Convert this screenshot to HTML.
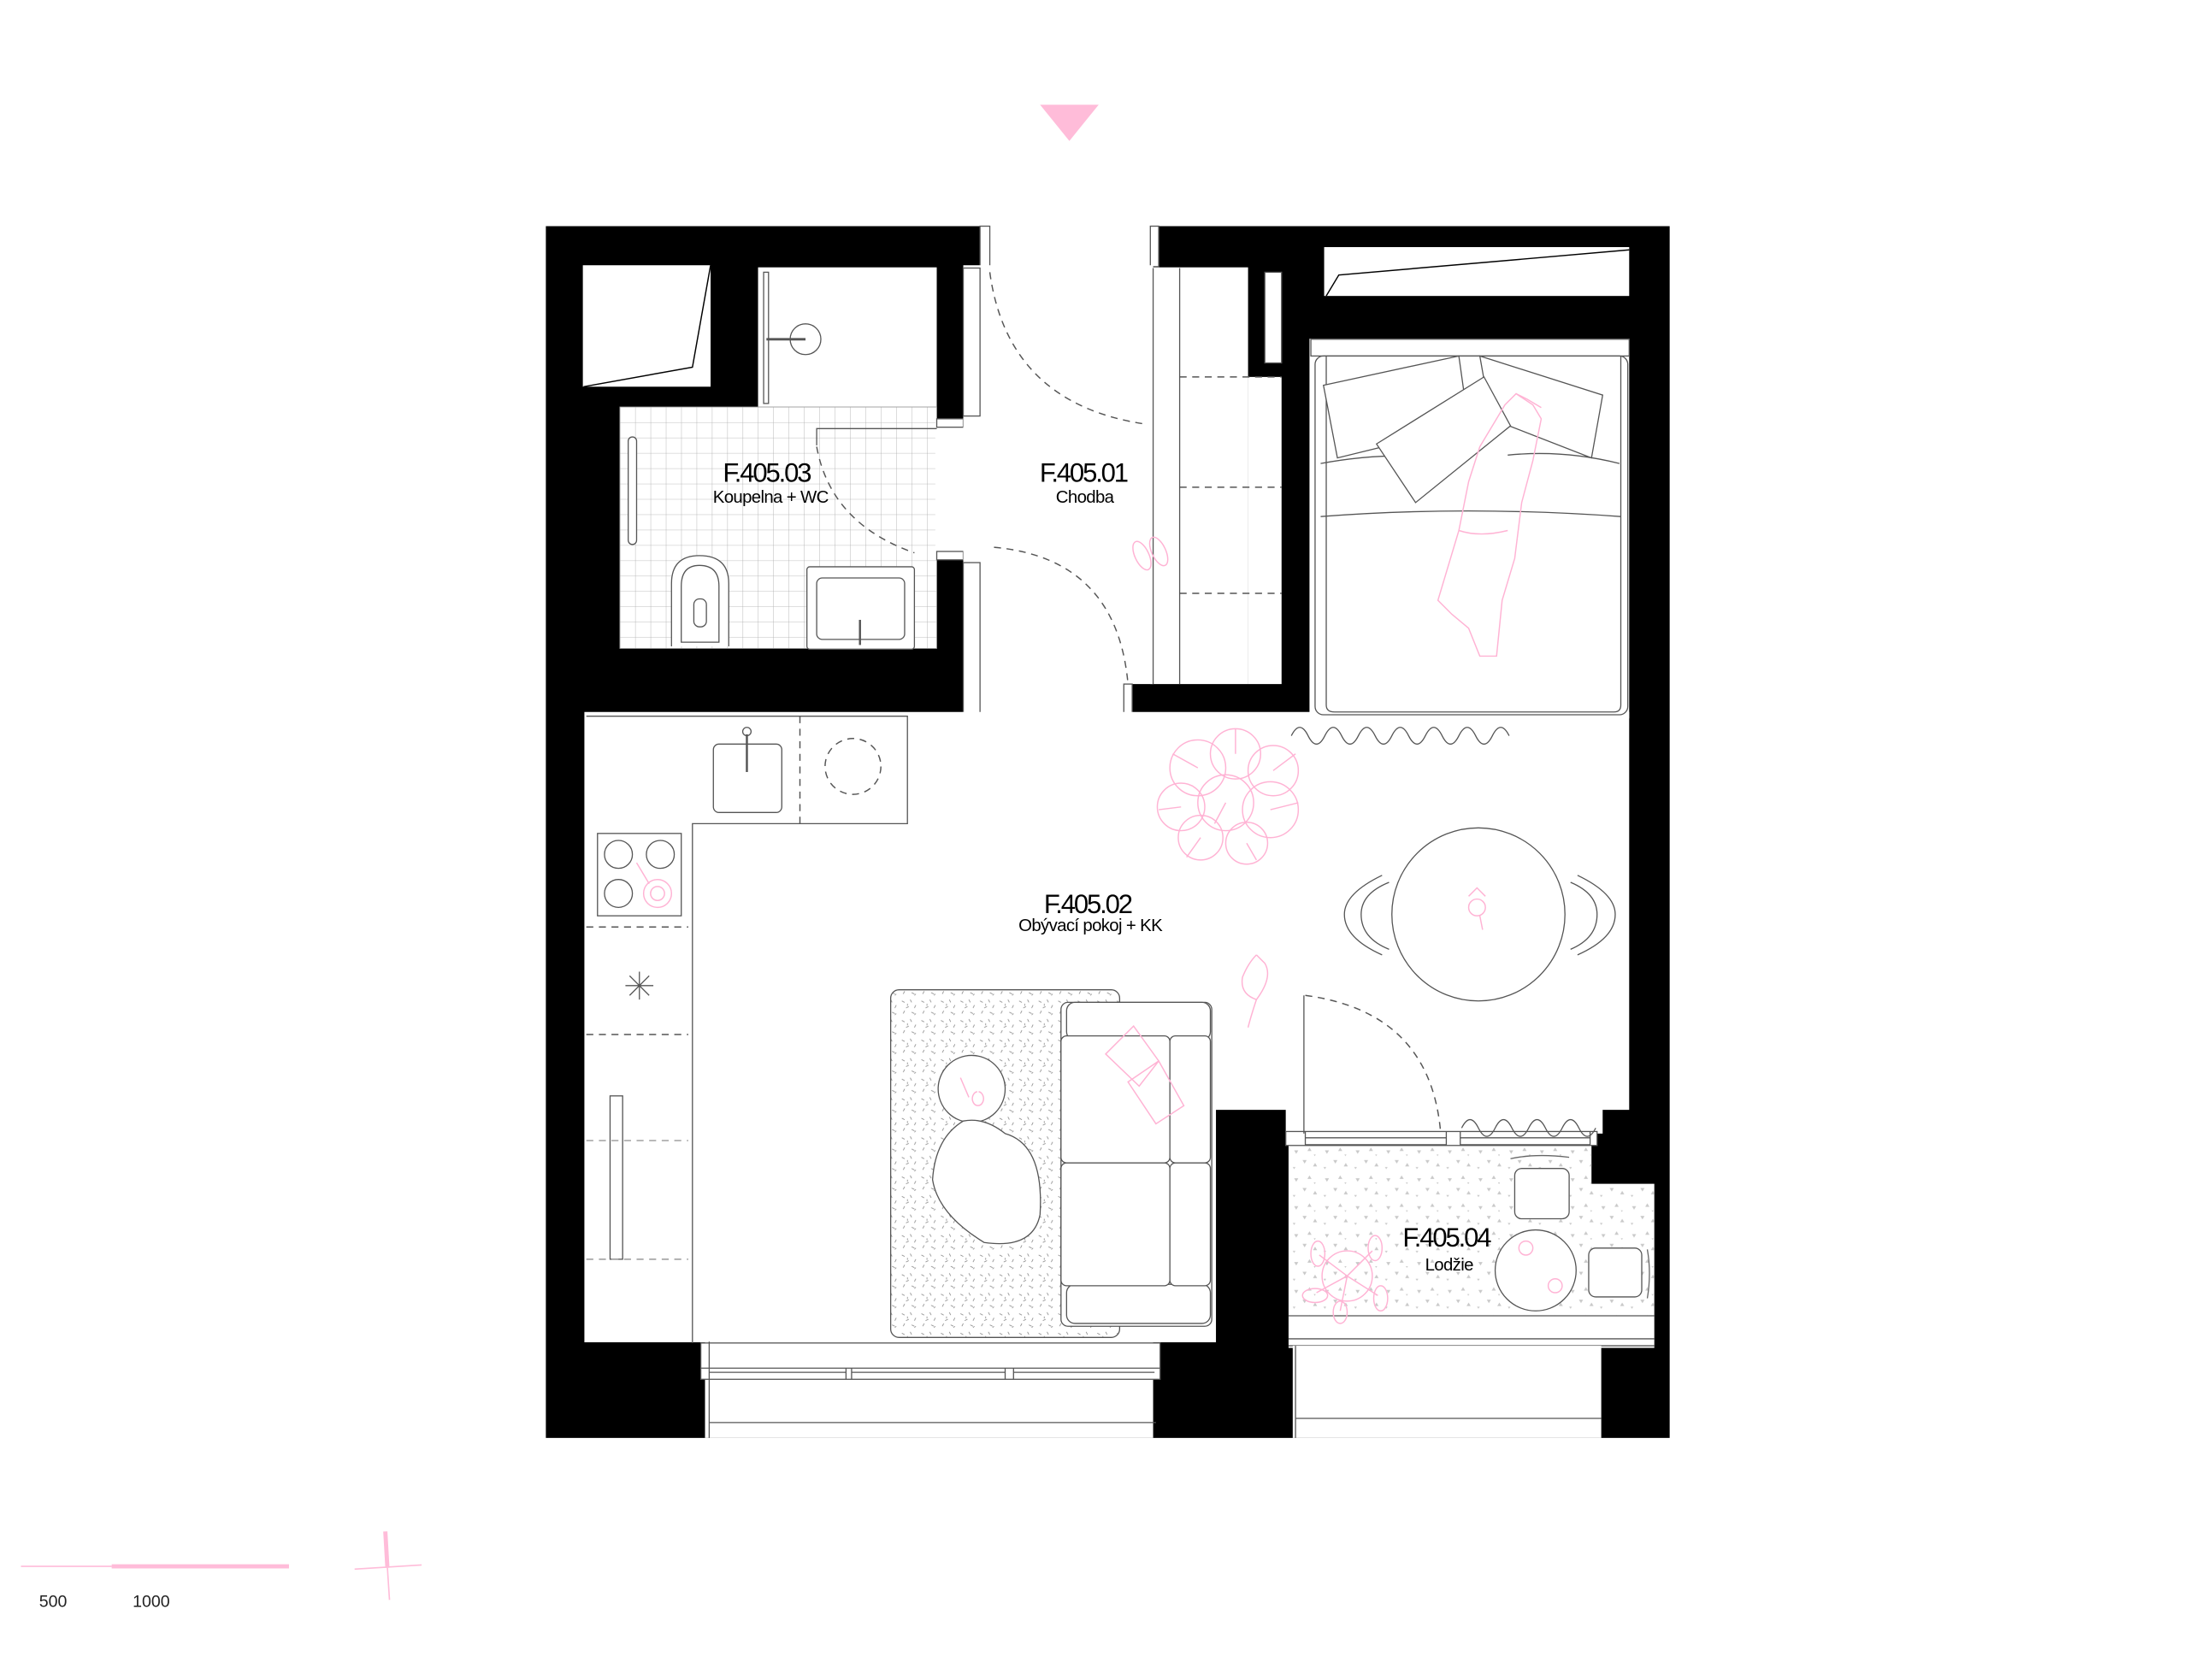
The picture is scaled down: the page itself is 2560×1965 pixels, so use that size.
<!DOCTYPE html>
<html><head><meta charset="utf-8"><style>
html,body{margin:0;padding:0;background:#fff;}
svg{display:block;}
.t{font-family:"Liberation Sans",sans-serif;font-size:19px;letter-spacing:-1.3px;fill:#000;text-anchor:middle;}
.s{font-family:"Liberation Sans",sans-serif;font-size:12.5px;letter-spacing:-0.4px;fill:#000;text-anchor:middle;}
.l{fill:none;stroke:#555;stroke-width:0.8;}
.lw{fill:#fff;stroke:#555;stroke-width:0.8;}
.d{fill:none;stroke:#555;stroke-width:0.9;stroke-dasharray:5 4;}
.p{fill:none;stroke:#ffb3d4;stroke-width:0.9;}
</style></head><body>
<svg width="2560" height="1965" viewBox="0 0 1568 1203.4" preserveAspectRatio="none" xmlns="http://www.w3.org/2000/svg">
<defs>
<pattern id="tile" width="11" height="11" patternUnits="userSpaceOnUse" x="444" y="291.5">
<path d="M0 0H11M0 0V11" stroke="#aaa" stroke-width="0.5" fill="none"/>
</pattern>
<pattern id="rug" width="14" height="14" patternUnits="userSpaceOnUse">
<path d="M2 3l2 1M8 2l1 2M12 6l-1 2M5 8l2-1M3 12l1-2M9 11l2 1M6 5l0 1.5M11 13l1-1" stroke="#888" stroke-width="0.5" fill="none"/>
</pattern>
<pattern id="tri" width="22" height="20" patternUnits="userSpaceOnUse">
<path d="M3 4l3 0l-1.5 2.5zM14 2l1.5 2.5l-3 0zM9 11l3 0l-1.5 2.5zM18 13l1.5 2.5l-3 0zM2 16l2 0l-1 1.5zM17 7l1.5 0l-.75 1.2z" fill="#c9c9c9"/>
</pattern>
</defs>

<polygon points="745,75 787,75 766,101" fill="#ffbcd9"/>

<rect x="391" y="162" width="805" height="868" fill="#000"/>

<rect x="702" y="155" width="124" height="40" fill="#fff"/>
<rect x="702" y="162" width="7" height="29" class="lw"/>
<rect x="824" y="162" width="6" height="29" class="lw"/>

<rect x="417.5" y="190" width="91.5" height="87" fill="#fff"/>
<path d="M509 190 L496 263 L418 277" fill="none" stroke="#000" stroke-width="0.9"/>
<rect x="543" y="191.5" width="128" height="101" fill="#fff"/>
<rect x="444" y="291.5" width="227" height="173" fill="#fff"/>
<rect x="444" y="291.5" width="227" height="173" fill="url(#tile)"/>
<rect x="444" y="291.5" width="227" height="173" fill="none" stroke="#999" stroke-width="0.5"/>
<rect x="670" y="300" width="21" height="101" fill="#fff"/>
<rect x="671" y="300" width="19" height="6" class="lw"/>
<rect x="671" y="395" width="19" height="6" class="lw"/>
<rect x="690" y="190" width="136" height="322" fill="#fff"/>
<rect x="690" y="192" width="12" height="106" class="lw"/>
<rect x="690" y="403" width="12" height="109" class="lw"/>
<rect x="805" y="490" width="113" height="22" fill="#000"/>
<rect x="805" y="490" width="6" height="22" class="lw"/>
<rect x="824" y="191.5" width="70" height="298.5" fill="#fff"/>
<rect x="894" y="270" width="24" height="220" fill="#fff"/>
<rect x="906" y="195" width="12" height="65" class="lw"/>
<line x1="845" y1="192" x2="845" y2="490" class="l"/>
<line x1="826" y1="192" x2="826" y2="490" class="l"/>
<path d="M845 270H918M845 349H918M845 425H918" class="d" stroke-dasharray="4 3"/>
<rect x="948.5" y="177" width="218.5" height="35" fill="#fff"/>
<path d="M1167 179 L959 197 L950 212" fill="none" stroke="#000" stroke-width="0.9"/>
<rect x="938" y="242.6" width="229" height="272" fill="#fff"/>
<polygon points="418.6,510 1167,510 1167,795 1148,795 1148,812 921,812 921,795 871,795 871,961.5 418.6,961.5" fill="#fff"/>
<rect x="505" y="961" width="321" height="69" fill="#fff"/>
<rect x="502" y="962" width="329" height="26" class="lw"/>
<path d="M502 980H831M508 983H606M610 983H720M726 983H827" class="l"/>
<path d="M606 980V988M610 980V988M720 980V988M726 980V988" class="l"/>
<line x1="508" y1="1019" x2="828" y2="1019" class="l"/>
<line x1="508" y1="961" x2="508" y2="1030" class="l"/>
<polygon points="923,820.6 1140,820.6 1140,848 1185,848 1185,942.5 923,942.5" fill="#fff"/>
<polygon points="923,820.6 1140,820.6 1140,848 1185,848 1185,942.5 923,942.5" fill="url(#tri)"/>
<rect x="923" y="942.5" width="262" height="23" fill="#fff"/>
<path d="M923 942.5H1185M923 959H1185M923 964H1185" class="l"/>
<rect x="926" y="964" width="221" height="66" fill="#fff"/>
<line x1="928" y1="1016" x2="1147" y2="1016" class="l"/>
<line x1="928" y1="964" x2="928" y2="1030" class="l"/>
<rect x="921" y="810.5" width="223" height="10" class="lw"/>
<path d="M935 815H1036M1046 815H1139M935 820H1036M1046 820H1139M1036 810.5V820.6M1046 810.5V820.6M935 810.5V820.6M1139 810.5V820.6" class="l"/>

<rect x="547" y="195" width="3.5" height="94" class="lw"/>
<circle cx="577" cy="243" r="11" class="lw"/>
<line x1="549" y1="243" x2="577" y2="243" stroke="#555" stroke-width="1.8"/>
<rect x="450" y="313" width="6" height="77" rx="3" class="lw"/>
<path d="M481 463 V418 Q481 398 501 398 Q522 398 522 418 V463" class="lw"/>
<path d="M488 460 V420 Q488 405 501 405 Q515 405 515 420 V460 Z" class="l"/>
<rect x="497" y="429" width="9" height="20" rx="4" class="l"/>
<rect x="578" y="406" width="77" height="59" rx="2" class="lw"/>
<rect x="585" y="414" width="63" height="44" rx="4" class="l"/>
<line x1="616" y1="444" x2="616" y2="462" stroke="#555" stroke-width="1.5"/>
<path d="M585 319 V307 H671" class="l"/>
<path d="M585 320 Q595 375 655 396" class="d"/>

<path d="M709 195 Q722 290 822 304" class="d"/>
<path d="M712 392 Q800 400 808 490" class="d"/>
<ellipse cx="818" cy="398" rx="5" ry="11" transform="rotate(-25 818 398)" class="p"/>
<ellipse cx="830" cy="395" rx="5" ry="11" transform="rotate(-25 830 395)" class="p"/>

<rect x="939" y="243" width="228" height="12" class="lw"/>
<rect x="942" y="255" width="224" height="257" rx="6" class="l"/>
<path d="M950 255 V505 Q950 510 956 510 H1156 Q1161 510 1161 505 V255" class="l"/>
<path d="M948 276 L1045 255 L1052 305 L958 328 Z" class="lw"/>
<path d="M1060 255 L1148 283 L1140 328 L1068 300 Z" class="lw"/>
<path d="M946 332 Q1000 322 1050 330 M1080 326 Q1120 322 1160 332" class="l"/>
<path d="M986 318 L1063 270 L1082 305 L1014 360 Z" class="lw"/>
<path d="M946 370 Q1050 362 1161 370" class="l"/>
<path d="M1078 290 L1086 282 L1098 290 L1104 300 L1098 330 L1090 360 L1085 400 L1076 430 L1072 470 L1060 470 L1052 450 L1040 440 L1030 430 L1045 380 L1052 345 L1060 320 L1072 300 Z" class="p"/>
<path d="M1086 282 L1094 286 L1104 292 M1045 380 Q1060 385 1080 380" class="p"/>

<path d="M925 527 q6 -12 12 0 q6 12 12 0 q6 -12 12 0 q6 12 12 0 q6 -12 12 0 q6 12 12 0 q6 -12 12 0 q6 12 12 0 q6 -12 12 0 q6 12 12 0 q6 -12 12 0 q6 12 12 0 q6 -12 12 0" class="l"/>
<path d="M1047 808 q6 -12 12 0 q6 12 12 0 q6 -12 12 0 q6 12 12 0 q6 -12 12 0 q6 12 12 0 q6 -12 12 0 q6 12 12 0" class="l"/>

<path d="M420 513 H650 V590 H496 V962" class="l"/>
<rect x="511" y="533" width="49" height="49" rx="4" class="lw"/>
<line x1="535" y1="526" x2="535" y2="553" stroke="#555" stroke-width="1.5"/>
<circle cx="535" cy="524" r="3" class="l"/>
<line x1="573" y1="513" x2="573" y2="590" class="d" stroke-dasharray="4 4"/>
<circle cx="611" cy="549" r="20" class="d" stroke-dasharray="3 3"/>
<rect x="428" y="597" width="60" height="59" class="lw"/>
<circle cx="443" cy="612" r="10" class="l"/><circle cx="473" cy="612" r="10" class="l"/>
<circle cx="443" cy="640" r="10" class="l"/>
<circle cx="471" cy="640" r="10" class="p"/><circle cx="471" cy="640" r="5" class="p"/>
<line x1="456" y1="618" x2="465" y2="633" class="p"/>
<path d="M420 664H493M420 741H493" class="d" stroke-dasharray="4 4"/>
<path d="M448 706H468M458 696V716M451 699L465 713M465 699L451 713" class="l"/>
<rect x="437" y="785" width="9" height="117" class="lw"/>
<path d="M420 817H493M420 902H493" class="d" stroke-dasharray="4 4" style="stroke:#999"/>

<g class="p">
<circle cx="858" cy="550" r="20"/><circle cx="885" cy="540" r="18"/><circle cx="912" cy="552" r="18"/>
<circle cx="846" cy="578" r="17"/><circle cx="878" cy="575" r="20"/><circle cx="910" cy="580" r="20"/>
<circle cx="860" cy="600" r="16"/><circle cx="893" cy="604" r="15"/>
<path d="M858 550L840 540M885 540L885 522M912 552L928 540M846 578L830 580M910 580L930 575M860 600L850 614M893 604L900 616M878 575L870 590"/>
</g>

<circle cx="1059" cy="655" r="62" class="lw"/>
<path d="M995 632 Q975 640 975 655 Q975 672 995 680" class="l"/>
<path d="M990 627 Q963 640 963 655 Q963 672 990 684" class="l"/>
<path d="M1125 632 Q1144 640 1144 655 Q1144 672 1125 680" class="l"/>
<path d="M1130 627 Q1157 640 1157 655 Q1157 672 1130 684" class="l"/>
<g class="p"><circle cx="1058" cy="650" r="6"/><path d="M1052 642l6 -6l6 6M1060 656l2 10"/></g>

<line x1="934" y1="713" x2="934" y2="812" class="l"/>
<path d="M935 713 Q1025 725 1032 812" class="d"/>
<path d="M900 684 L906 690 Q912 700 900 716 Q896 728 894 736 M900 716 Q888 712 890 700 Q894 690 900 684" class="p"/>

<rect x="638" y="709" width="164" height="249" rx="6" fill="url(#rug)" stroke="#555" stroke-width="0.8"/>
<rect x="760" y="718" width="108" height="232" rx="5" class="lw"/>
<rect x="764" y="718" width="103" height="27" rx="6" class="lw"/>
<rect x="764" y="920" width="103" height="28" rx="6" class="lw"/>
<rect x="760" y="742" width="78" height="91" rx="4" class="lw"/>
<rect x="760" y="833" width="78" height="88" rx="4" class="lw"/>
<rect x="838" y="742" width="29" height="91" rx="4" class="lw"/>
<rect x="838" y="833" width="29" height="88" rx="4" class="lw"/>
<path d="M792 755 L812 735 L830 760 L816 778 Z M808 775 L830 760 L848 792 L828 805 Z" class="p" fill="#fff"/>
<circle cx="696" cy="780" r="24" class="lw"/>
<path d="M690 803 Q670 815 668 845 Q672 870 705 890 Q740 895 745 870 Q748 820 720 812 Q705 800 690 803 Z" class="lw"/>
<path d="M688 772 l6 14M700 782 a4 5 0 1 0 1 0" class="p"/>

<rect x="1085" y="837" width="39" height="36" rx="5" class="lw"/>
<path d="M1082 830 Q1100 826 1124 829" class="l" stroke-width="2.5" style="stroke:#666"/>
<circle cx="1100" cy="910" r="29" class="lw"/>
<rect x="1138" y="894" width="38" height="35" rx="5" class="lw"/>
<path d="M1180 895 Q1183 912 1180 930" class="l" stroke-width="2.5" style="stroke:#666"/>
<g class="p"><circle cx="1093" cy="894" r="5"/><circle cx="1114" cy="921" r="5"/>
<circle cx="965" cy="914" r="18"/>
<path d="M965 914l-20 -15M965 914l18 -18M965 914l-22 12M965 914l22 14M965 914l-5 25"/>
<ellipse cx="944" cy="898" rx="5" ry="9"/><ellipse cx="985" cy="894" rx="5" ry="9"/><ellipse cx="942" cy="928" rx="9" ry="5"/><ellipse cx="989" cy="930" rx="5" ry="9"/><ellipse cx="960" cy="940" rx="5" ry="8"/>
</g>

<text class="t" x="549" y="345">F.405.03</text>
<text class="s" x="552" y="360">Koupelna + WC</text>
<text class="t" x="776" y="345">F.405.01</text>
<text class="s" x="777" y="360">Chodba</text>
<text class="t" x="779" y="654">F.405.02</text>
<text class="s" x="781" y="667">Obývací pokoj + KK</text>
<text class="t" x="1036" y="893">F.405.04</text>
<text class="s" x="1038" y="910">Lodžie</text>

<line x1="15" y1="1122" x2="80" y2="1122" stroke="#ffbcd9" stroke-width="1"/>
<line x1="80" y1="1122" x2="207" y2="1122" stroke="#ffbcd9" stroke-width="3"/>
<text x="28" y="1151" font-family="Liberation Sans, sans-serif" font-size="12" fill="#222">500</text>
<text x="95" y="1151" font-family="Liberation Sans, sans-serif" font-size="12" fill="#222">1000</text>
<path d="M276 1097 L277.5 1123" stroke="#ffbcd9" stroke-width="3"/>
<path d="M277.5 1123 L279 1146" stroke="#ffbcd9" stroke-width="1"/>
<path d="M254 1124 L302 1121" stroke="#ffbcd9" stroke-width="1"/>
</svg>
</body></html>
